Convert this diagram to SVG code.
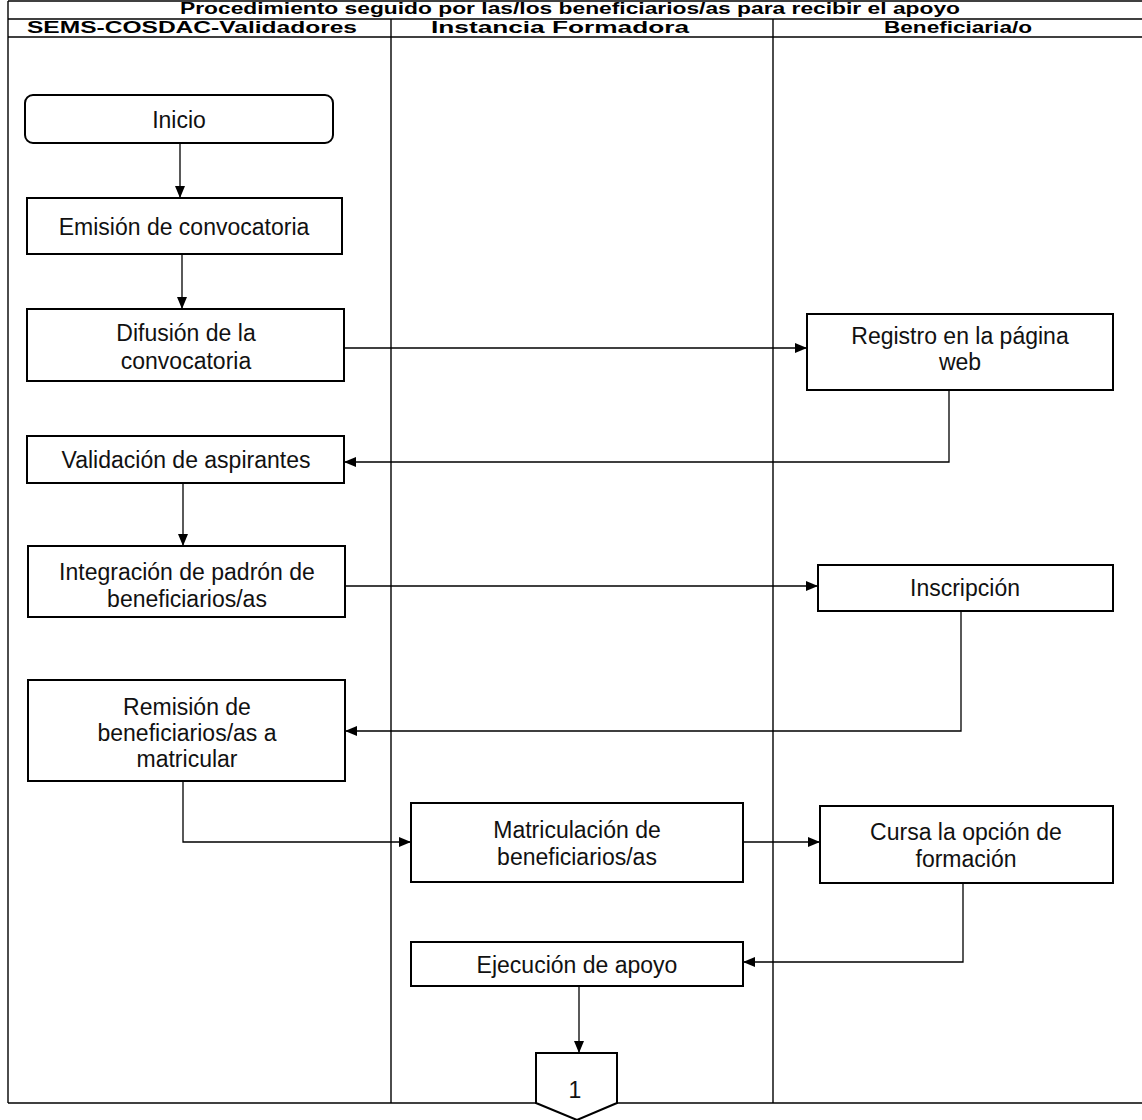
<svg xmlns="http://www.w3.org/2000/svg" width="1142" height="1120" viewBox="0 0 1142 1120">
<style>
.frame{fill:none;stroke:#000;stroke-width:1.4}
.box{fill:#fff;stroke:#000;stroke-width:2}
.con{fill:none;stroke:#000;stroke-width:1.3}
.t{font-family:"Liberation Sans",Arial,sans-serif;font-size:23px;fill:#111;text-anchor:middle}
.h{font-family:"Liberation Sans",Arial,sans-serif;font-size:16px;font-weight:bold;fill:#000;text-anchor:middle}
</style>
<defs>
<marker id="ah" viewBox="0 0 12 10" refX="12" refY="5" markerWidth="12" markerHeight="10" markerUnits="userSpaceOnUse" orient="auto">
<path d="M0,0 L12,5 L0,10 Z" fill="#000"/>
</marker>
</defs>
<rect width="1142" height="1120" fill="#fff"/>
<g id="frame">
<line class="frame" x1="8" y1="1" x2="1142" y2="1"/>
<line class="frame" x1="8" y1="19" x2="1142" y2="19"/>
<line class="frame" x1="8" y1="37" x2="1142" y2="37"/>
<line class="frame" x1="8" y1="1" x2="8" y2="1103"/>
<line class="frame" x1="391" y1="19" x2="391" y2="1103"/>
<line class="frame" x1="773" y1="19" x2="773" y2="1103"/>
<line class="frame" x1="8" y1="1103" x2="1142" y2="1103"/>
<text class="h" x="570" y="14" textLength="780" lengthAdjust="spacingAndGlyphs">Procedimiento seguido por las/los beneficiarios/as para recibir el apoyo</text>
<text class="h" x="192" y="33" textLength="330" lengthAdjust="spacingAndGlyphs">SEMS-COSDAC-Validadores</text>
<text class="h" x="560" y="33" textLength="258" lengthAdjust="spacingAndGlyphs">Instancia Formadora</text>
<text class="h" x="958" y="33" textLength="148" lengthAdjust="spacingAndGlyphs">Beneficiaria/o</text>
</g>
<g id="connectors">
<path class="con" d="M180,143 V198" marker-end="url(#ah)"/>
<path class="con" d="M182,254 V309" marker-end="url(#ah)"/>
<path class="con" d="M344,348 H807" marker-end="url(#ah)"/>
<path class="con" d="M949,390 V462 H344" marker-end="url(#ah)"/>
<path class="con" d="M183,483 V546" marker-end="url(#ah)"/>
<path class="con" d="M345,586 H818" marker-end="url(#ah)"/>
<path class="con" d="M961,611 V731 H345" marker-end="url(#ah)"/>
<path class="con" d="M183,781 V842 H411" marker-end="url(#ah)"/>
<path class="con" d="M743,842 H820" marker-end="url(#ah)"/>
<path class="con" d="M963,883 V962 H743" marker-end="url(#ah)"/>
<path class="con" d="M579,986 V1053" marker-end="url(#ah)"/>
</g>
<g id="n-inicio"><rect class="box" x="25" y="95" width="308" height="48" rx="8"/><text class="t" x="179" y="128">Inicio</text></g>
<g id="n-emision"><rect class="box" x="27" y="198" width="315" height="56"/><text class="t" x="184" y="235">Emisión de convocatoria</text></g>
<g id="n-difusion"><rect class="box" x="27" y="309" width="317" height="72"/><text class="t" x="186" y="341">Difusión de la</text><text class="t" x="186" y="369">convocatoria</text></g>
<g id="n-validacion"><rect class="box" x="27" y="436" width="317" height="47"/><text class="t" x="186" y="468">Validación de aspirantes</text></g>
<g id="n-integracion"><rect class="box" x="28" y="546" width="317" height="71"/><text class="t" x="187" y="580">Integración de padrón de</text><text class="t" x="187" y="607">beneficiarios/as</text></g>
<g id="n-remision"><rect class="box" x="28" y="680" width="317" height="101"/><text class="t" x="187" y="715">Remisión de</text><text class="t" x="187" y="741">beneficiarios/as a</text><text class="t" x="187" y="767">matricular</text></g>
<g id="n-registro"><rect class="box" x="807" y="314" width="306" height="76"/><text class="t" x="960" y="344">Registro en la página</text><text class="t" x="960" y="370">web</text></g>
<g id="n-inscripcion"><rect class="box" x="818" y="565" width="295" height="46"/><text class="t" x="965" y="596">Inscripción</text></g>
<g id="n-matriculacion"><rect class="box" x="411" y="803" width="332" height="79"/><text class="t" x="577" y="838">Matriculación de</text><text class="t" x="577" y="865">beneficiarios/as</text></g>
<g id="n-cursa"><rect class="box" x="820" y="806" width="293" height="77"/><text class="t" x="966" y="840">Cursa la opción de</text><text class="t" x="966" y="867">formación</text></g>
<g id="n-ejecucion"><rect class="box" x="411" y="942" width="332" height="44"/><text class="t" x="577" y="973">Ejecución de apoyo</text></g>
<g id="n-conector"><polygon class="box" points="536,1053 617,1053 617,1103 577,1120 536,1103"/><text class="t" x="575" y="1098">1</text></g>
</svg>
